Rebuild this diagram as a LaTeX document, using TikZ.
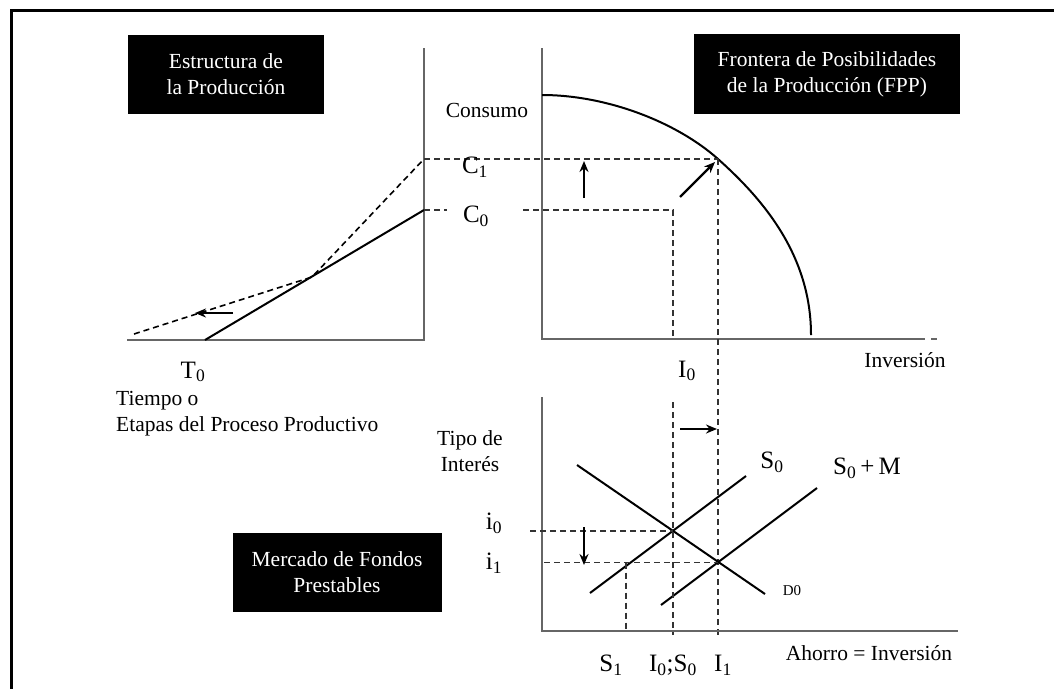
\documentclass[tikz,border=0pt]{standalone}
\usepackage{fontspec}
\setmainfont{Liberation Serif}
\usetikzlibrary{arrows.meta}
\begin{document}
\begin{tikzpicture}[x=1pt,y=-1pt,
  axis/.style={draw=black!60, line width=1.6pt},
  curve/.style={draw=black, line width=2pt},
  guide/.style={draw=black!80, line width=1.3pt, dash pattern=on 6pt off 4pt},
  move/.style={draw=black, line width=2.2pt, -{Stealth[length=11pt,width=9pt]}},
  lbl/.style={font=\fontsize{21.5}{26}\selectfont, inner sep=0pt, align=left},
  sym/.style={font=\fontsize{25}{28}\selectfont, inner sep=0pt},
  titlebox/.style={fill=black, text=white, font=\fontsize{21.5}{26}\selectfont, align=center, inner sep=0pt}]
\useasboundingbox (0,0) rectangle (1054,689);
% frame
\coordinate (F1) at (1054,10);
\coordinate (F2) at (11,10);
\coordinate (F3) at (11,689);
\draw[line width=3pt] (F1) -- (F2) -- (F3);

% ---------- title boxes
\node[titlebox, minimum width=196pt, minimum height=79pt] (tEst) at (226,74.5) {Estructura de\\la Producción};
\node[titlebox, minimum width=266pt, minimum height=80pt] (tFPP) at (827,74) {Frontera de Posibilidades\\de la Producción (FPP)};
\node[titlebox, minimum width=209pt, minimum height=79pt] (tMer) at (337,572.5) {Mercado de Fondos\\Prestables};

% ---------- left graph
\coordinate (LT) at (424,48);
\coordinate (LO) at (424,340);
\coordinate (LL) at (127,340);
\draw[axis] (LT) -- (LO) -- (LL);
\coordinate (T0p) at (205,340);
\coordinate (C0p) at (424,210);
\coordinate (C1p) at (424,159);
\coordinate (K) at (312,277);
\coordinate (DL) at (134,334);
\draw[curve] (T0p) -- (C0p);
\draw[guide, draw=black, line width=1.6pt] (DL) -- (K) -- (C1p);
\coordinate (aL1) at (233,313);
\coordinate (aL2) at (195,313);
\draw[move] (aL1) -- (aL2);

% ---------- top right graph
\coordinate (RT) at (542,48);
\coordinate (RO) at (542,339);
\coordinate (RX) at (925,339);
\coordinate (RX1) at (931,339);
\coordinate (RX2) at (937,339);
\draw[axis] (RT) -- (RO) -- (RX);
\draw[axis] (RX1) -- (RX2);
\coordinate (FPtop) at (542,95);
\coordinate (P1) at (718,159);
\coordinate (FPend) at (811,335);
\draw[curve] (FPtop) .. controls (607,95) and (676.9,122.3) .. (P1)
  .. controls (762.8,199) and (811,255) .. (FPend);
\coordinate (C0a) at (447,210);
\coordinate (C0b) at (523,210);
\coordinate (I0c) at (673,210);
\coordinate (I0d) at (673,339);
\draw[guide] (C1p) -- (P1);
\draw[guide] (C0p) -- (C0a);
\draw[guide] (C0b) -- (I0c) -- (I0d);
\coordinate (I1b) at (718,638);
\draw[guide] (P1) -- (I1b);
\coordinate (aU1) at (584,198);
\coordinate (aU2) at (584,161);
\draw[move] (aU1) -- (aU2);
\coordinate (aD1) at (680,197);
\coordinate (aD2) at (715,162);
\draw[move] (aD1) -- (aD2);

% ---------- bottom graph
\coordinate (BT) at (542,397);
\coordinate (BO) at (542,631);
\coordinate (BX) at (958,631);
\draw[axis] (BT) -- (BO) -- (BX);
\coordinate (E0) at (673,531);
\coordinate (E1) at (718,562.5);
\coordinate (Da) at (577,465);
\coordinate (Db) at (765,594);
\coordinate (Sa) at (590,593);
\coordinate (Sb) at (746,476);
\coordinate (Ma) at (661,605);
\coordinate (Mb) at (817,488);
\draw[curve] (Da) -- (Db);
\draw[curve] (Sa) -- (Sb);
\draw[curve] (Ma) -- (Mb);
\coordinate (i0a) at (530,531);
\coordinate (i1a) at (544,562.5);
\draw[guide] (i0a) -- (E0);
\draw[guide] (i1a) -- (E1);
\coordinate (S1t) at (626,562.5);
\coordinate (S1b) at (626,631);
\draw[guide] (S1t) -- (S1b);
\coordinate (I0t) at (673,402);
\coordinate (I0b) at (673,635);
\draw[guide] (I0t) -- (I0b);
\coordinate (aV1) at (584,527);
\coordinate (aV2) at (584,565);
\draw[move] (aV1) -- (aV2);
\coordinate (aR1) at (680,429);
\coordinate (aR2) at (717,429);
\draw[move] (aR1) -- (aR2);

% ---------- labels
\node[lbl] (consumo) at (487,110) {Consumo};
\node[sym] (lC1) at (475,167) {C\textsubscript{1}};
\node[sym] (lC0) at (476,216) {C\textsubscript{0}};
\node[sym] (lT0) at (193,372) {T\textsubscript{0}};
\node[lbl, anchor=west] (tiempo) at (116,414) {Tiempo o\\Etapas del Proceso Productivo};
\node[lbl] (inv) at (905,360) {Inversión};
\node[sym] (lI0) at (687,371) {I\textsubscript{0}};
\node[lbl, align=center] (tipo) at (470,451) {Tipo de\\Interés};
\node[sym] (li0) at (494,523) {i\textsubscript{0}};
\node[sym] (li1) at (494,563) {i\textsubscript{1}};
\node[sym] (lS0) at (772,462) {S\textsubscript{0}};
\node[sym] (lS0M) at (867,468) {S\textsubscript{0}\,+\,M};
\node[inner sep=0pt, font=\fontsize{15}{18}\selectfont] (lD0) at (792,591) {D0};
\node[sym] (lS1) at (611,665) {S\textsubscript{1}};
\node[sym] (lI0S0) at (673,665) {I\textsubscript{0};S\textsubscript{0}};
\node[sym] (lI1) at (723,665) {I\textsubscript{1}};
\node[lbl] (ahorro) at (869,653) {Ahorro = Inversión};
\end{tikzpicture}
\end{document}
